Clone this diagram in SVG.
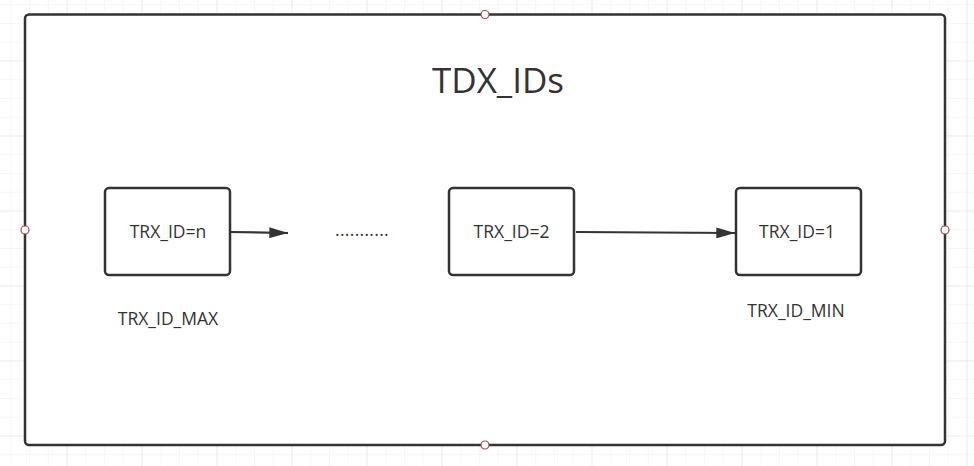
<svg xmlns="http://www.w3.org/2000/svg" width="974" height="466" viewBox="0 0 974 466">
<defs>
<style>
.frame{fill:#fff;stroke:#333;stroke-width:2.5}
.box{fill:#fff;stroke:#333;stroke-width:2.5}
.pt{fill:#fff;stroke:#a54a4a;stroke-width:1.2}
.t{font-family:"Open Sans","Noto Sans",sans-serif;fill:#333;text-anchor:middle}
.lbl{font-size:17.5px}
.edge{stroke:#333;stroke-width:2.2;fill:none}
</style>
<pattern id="minor" patternUnits="userSpaceOnUse" x="10.25" y="4.2" width="18.75" height="18.75">
<path d="M0 0H18.75M0 0V18.75" stroke="#efefef" stroke-width="1" fill="none"/>
</pattern>
<pattern id="major" patternUnits="userSpaceOnUse" x="66.5" y="60.45" width="75" height="75">
<path d="M0 0H75M0 0V75" stroke="#e2e2e2" stroke-width="1" fill="none"/>
</pattern>
<marker id="arr" viewBox="0 0 10 10" refX="10" refY="5" markerWidth="8.5" markerHeight="5" markerUnits="strokeWidth" orient="auto" preserveAspectRatio="none">
<path d="M0 0L10 5L0 10z" fill="#333"/>
</marker>
</defs>
<rect width="974" height="466" fill="#fff"/>
<rect width="974" height="466" fill="url(#minor)"/>
<rect width="974" height="466" fill="url(#major)"/>
<g id="container">
<rect class="frame" x="25" y="14.5" width="920" height="430.5" rx="4"/>
<text class="t" x="498" y="93" font-size="35">TDX_IDs</text>
<circle class="pt" cx="485" cy="14.5" r="4"/>
<circle class="pt" cx="25" cy="230" r="4"/>
<circle class="pt" cx="945" cy="230" r="4"/>
<circle class="pt" cx="485" cy="445" r="4"/>
</g>
<g id="connectors">
<line class="edge" x1="231" y1="232" x2="288" y2="233" marker-end="url(#arr)"/>
<line class="edge" x1="576" y1="232" x2="735" y2="233" marker-end="url(#arr)"/>
</g>
<g id="node-n">
<rect class="box" x="105" y="188" width="125" height="87" rx="4"/>
<text class="t lbl" x="168" y="238">TRX_ID=n</text>
</g>
<g id="dots">
<text class="t lbl" x="362" y="236" letter-spacing="0.3">...........</text>
</g>
<g id="node-2">
<rect class="box" x="449" y="188" width="125" height="87" rx="4"/>
<text class="t lbl" x="511.5" y="238">TRX_ID=2</text>
</g>
<g id="node-1">
<rect class="box" x="736" y="188" width="125" height="87" rx="4"/>
<text class="t lbl" x="797" y="238">TRX_ID=1</text>
</g>
<g id="label-max">
<text class="t lbl" x="168" y="325">TRX_ID_MAX</text>
</g>
<g id="label-min">
<text class="t lbl" x="796" y="317">TRX_ID_MIN</text>
</g>
</svg>
